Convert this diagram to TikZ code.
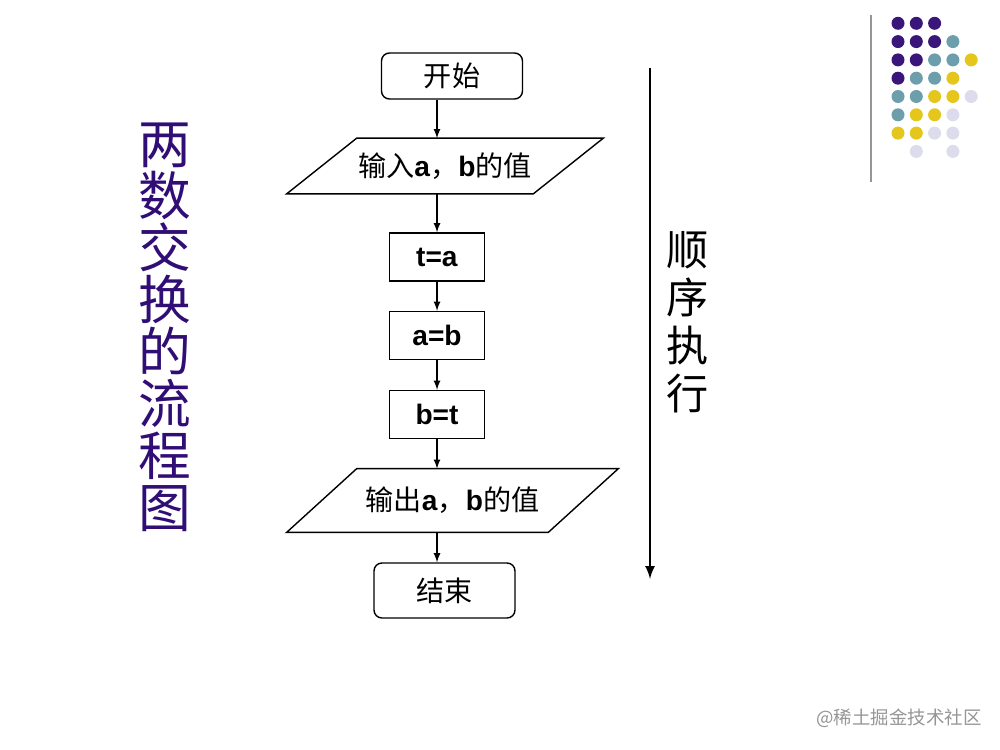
\documentclass[tikz,border=0pt]{standalone}
\usepackage{fontspec}
\setmainfont{Liberation Sans}
\newfontfamily\cjk{Noto Sans CJK SC}
\usetikzlibrary{calc}

\definecolor{titleviolet}{RGB}{48,14,118}
\definecolor{dotviolet}{RGB}{58,22,122}
\definecolor{dotteal}{RGB}{108,158,172}
\definecolor{dotyellow}{RGB}{228,198,28}
\definecolor{dotlilac}{RGB}{220,220,236}
\definecolor{markgray}{RGB}{150,150,150}

\begin{document}
\begin{tikzpicture}[x=0.02cm, y=-0.02cm,
    every node/.style={font=\fontsize{16}{19}\selectfont, inner sep=0pt},
    term/.style={draw, rounded corners=4.5pt, line width=0.8pt, minimum width=2.82cm},
    proc/.style={draw, line width=0.8pt, minimum width=1.9cm, minimum height=0.96cm},
    io/.style={minimum width=6.32cm},
    edge/.style={line width=0.8pt},
    flow/.style={-latex, line width=0.8pt}]
        % Page and margins
        \fill[white] (0,0) rectangle (1000,750);
        \useasboundingbox (0,0) rectangle (1000,750);

        % Define the slant of the parallelograms
        \def\slant{70}
        % Define the spacing and radius of the corner dots
        \def\gap{18.3}
        \def\dotr{0.13cm}

        % Draw the flowchart boxes
        \node[term, minimum height=0.92cm] (start) at (452,76) {\cjk 开始};
        \node[io, minimum height=1.1cm] (in) at (445,166)
          {{\cjk 输入}\textbf{a}{\cjk ，}\textbf{b}{\cjk 的值}};
        \node[proc] (ta) at (437,257) {\textbf{t=a}};
        \node[proc] (ab) at (437,335.5) {\textbf{a=b}};
        \node[proc] (bt) at (437,414.5) {\textbf{b=t}};
        \node[io, minimum width=6.62cm, minimum height=1.26cm] (out) at (452.5,500.5)
          {{\cjk 输出}\textbf{a}{\cjk ，}\textbf{b}{\cjk 的值}};
        \node[term, minimum height=1.1cm] (end) at (444.5,590.5) {\cjk 结束};

        % Outline the two parallelograms
        \foreach \p in {in, out}
        {
          \draw[edge] ($(\p.north west)+(\slant,0)$) -- (\p.north east)
            -- ($(\p.south east)-(\slant,0)$) -- (\p.south west) -- cycle;
        }

        % Connect the boxes
        \draw[flow] (start.south -| ta) -- (in.north -| ta);
        \draw[flow] (in.south -| ta) -- (ta);
        \draw[flow] (ta) -- (ab);
        \draw[flow] (ab) -- (bt);
        \draw[flow] (bt) -- (out.north -| bt);
        \draw[flow] (out.south -| bt) -- (end.north -| bt);

        % Long arrow on the right with its label
        \coordinate (top) at (650,68);
        \coordinate (bottom) at (650,579);
        \draw[-latex, line width=1.5pt] (top) -- (bottom);
        \node[font=\fontsize{24}{27.3}\selectfont\cjk, align=center] (order) at (688,322) {顺\\序\\执\\行};

        % Title on the left
        \node[font=\fontsize{30}{29.6}\selectfont\cjk, text=titleviolet, align=center] (title) at (165,327)
          {两\\数\\交\\换\\的\\流\\程\\图};

        % Thin rule and dots in the corner
        \coordinate (rtop) at (871,15);
        \coordinate (rbot) at (871,182);
        \draw[markgray, line width=0.8pt] (rtop) -- (rbot);
        \foreach \c/\r/\col in {0/0/dotviolet, 1/0/dotviolet, 2/0/dotviolet,
            0/1/dotviolet, 1/1/dotviolet, 2/1/dotviolet, 3/1/dotteal,
            0/2/dotviolet, 1/2/dotviolet, 2/2/dotteal, 3/2/dotteal, 4/2/dotyellow,
            0/3/dotviolet, 1/3/dotteal, 2/3/dotteal, 3/3/dotyellow,
            0/4/dotteal, 1/4/dotteal, 2/4/dotyellow, 3/4/dotyellow, 4/4/dotlilac,
            0/5/dotteal, 1/5/dotyellow, 2/5/dotyellow, 3/5/dotlilac,
            0/6/dotyellow, 1/6/dotyellow, 2/6/dotlilac, 3/6/dotlilac,
            1/7/dotlilac, 3/7/dotlilac}
        {
          \fill[\col] ({898 + \gap*\c}, {23.3 + \gap*\r}) circle[radius=\dotr];
        }

        % Watermark
        \node[font=\fontsize{10.5}{12}\selectfont\cjk, text=markgray] (mark) at (899,718) {@稀土掘金技术社区};
\end{tikzpicture}
\end{document}
